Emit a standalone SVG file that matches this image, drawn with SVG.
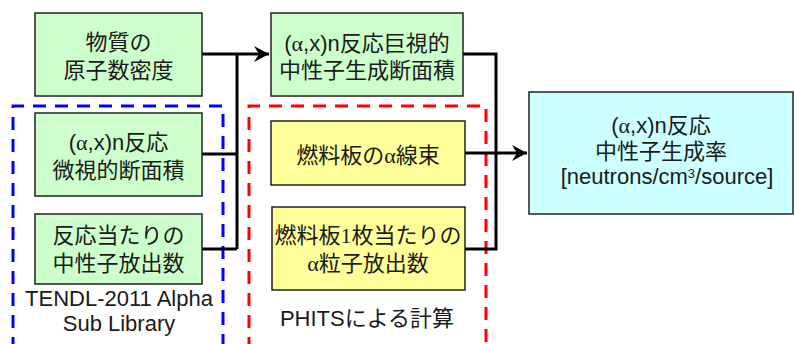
<svg xmlns="http://www.w3.org/2000/svg" width="794" height="344" viewBox="0 0 794 344">
<defs>
<style>
text{font-family:"Liberation Sans","Noto Sans CJK JP",sans-serif;font-size:22px;fill:#1a1a1a;text-anchor:middle}
.a{font-family:"Liberation Serif","Noto Sans CJK JP",serif}
.box{stroke:#222;stroke-width:1.5}
.g{fill:#ccffcc}.y{fill:#ffff99}.c{fill:#ccffff}
.conn{stroke:#000;stroke-width:3;fill:none}
.dash{fill:none;stroke-width:3;stroke-dasharray:13 9}
</style>
<marker id="ah" markerUnits="userSpaceOnUse" markerWidth="18" markerHeight="20" refX="16" refY="9" orient="auto">
<path d="M1,1 L16,9 L1,17 L6,9 z" fill="#000"/>
</marker>
</defs>
<rect width="794" height="344" fill="#fff"/>
<g id="regions">
<path class="dash" stroke="#0000ff" d="M13,350 V106 H223 V350"/>
<path class="dash" stroke="#ff0000" d="M249,350 V106 H486 V350"/>
<text x="119" y="306">TENDL-2011 Alpha</text>
<text x="119" y="331">Sub Library</text>
<text x="367" y="326">PHITSによる計算</text>
</g>
<g id="connectors">
<path class="conn" d="M202,54 H237 M237,54 V249 M202,154 H237 M202,249 H237"/>
<path class="conn" d="M237,54 H269" marker-end="url(#ah)"/>
<path class="conn" d="M463,54 H496 V249 H465"/>
<path class="conn" d="M465,153 H527" marker-end="url(#ah)"/>
</g>
<g id="n1">
<rect class="box g" x="35" y="13" width="167" height="83"/>
<text x="118.5" y="50">物質の</text>
<text x="118.5" y="78">原子数密度</text>
</g>
<g id="n2">
<rect class="box g" x="35" y="113" width="167" height="83"/>
<text x="118.5" y="150">(<tspan class="a">α</tspan>,x)n反応</text>
<text x="118.5" y="178">微視的断面積</text>
</g>
<g id="n3">
<rect class="box g" x="35" y="214" width="167" height="70"/>
<text x="118.5" y="243">反応当たりの</text>
<text x="118.5" y="271">中性子放出数</text>
</g>
<g id="n4">
<rect class="box g" x="271" y="13" width="192" height="83"/>
<text x="367" y="51">(<tspan class="a">α</tspan>,x)n反応巨視的</text>
<text x="367" y="78">中性子生成断面積</text>
</g>
<g id="n5">
<rect class="box y" x="271" y="121" width="194" height="64"/>
<text x="368" y="163">燃料板の<tspan class="a">α</tspan>線束</text>
</g>
<g id="n6">
<rect class="box y" x="272" y="207" width="193" height="83"/>
<text x="368" y="243">燃料板<tspan class="a">1</tspan>枚当たりの</text>
<text x="368" y="271"><tspan class="a">α</tspan>粒子放出数</text>
</g>
<g id="n7">
<rect class="box c" x="529" y="92" width="264" height="122"/>
<text x="661" y="133">(<tspan class="a">α</tspan>,x)n反応</text>
<text x="661" y="159">中性子生成率</text>
<text x="667" y="184" font-size="22.5">[neutrons/cm<tspan dy="-6" font-size="13">3</tspan><tspan dy="6">/source]</tspan></text>
</g>
</svg>
